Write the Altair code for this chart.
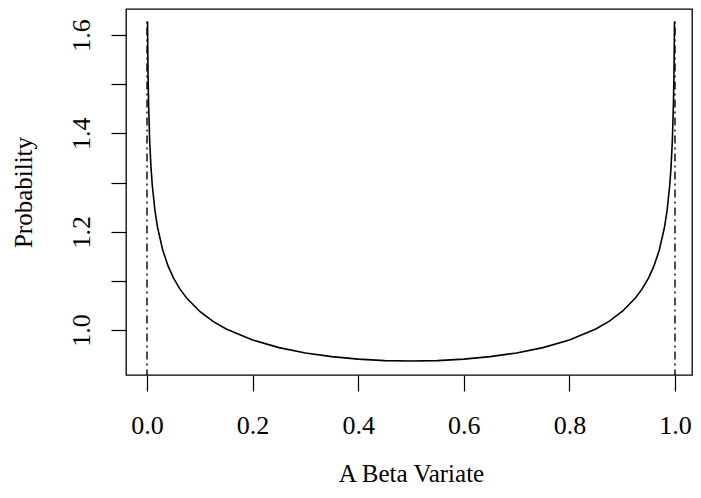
import altair as alt
import pandas as pd

# Density curve (symmetric U shape)
x_vals = [0.001, 0.0015, 0.002, 0.003, 0.005, 0.0075, 0.01, 0.015, 0.02, 0.03, 0.04, 0.05,
          0.0625, 0.075, 0.1, 0.125, 0.15, 0.2, 0.25, 0.3, 0.35, 0.4, 0.45, 0.5,
          0.55, 0.6, 0.65, 0.7, 0.75, 0.8, 0.85, 0.875, 0.9, 0.925, 0.9375, 0.95,
          0.96, 0.97, 0.98, 0.985, 0.99, 0.9925, 0.995, 0.997, 0.998, 0.9985, 0.999]
y_vals = [1.6275, 1.5629, 1.5187, 1.4585, 1.3861, 1.3313, 1.2939, 1.2432, 1.2085, 1.1617, 1.1299, 1.1061,
          1.0831, 1.0650, 1.0377, 1.0176, 1.0021, 0.9796, 0.9642, 0.9533, 0.9458, 0.9407, 0.9378, 0.9369,
          0.9378, 0.9407, 0.9458, 0.9533, 0.9642, 0.9796, 1.0021, 1.0176, 1.0377, 1.0650, 1.0831, 1.1061,
          1.1299, 1.1617, 1.2085, 1.2432, 1.2939, 1.3313, 1.3861, 1.4585, 1.5187, 1.5629, 1.6275]

# Dash-dot vertical guides at the support ends
vline_x = [0.0, 1.0]
vline_top = [1.6275, 1.6275]

x_ticks = [0.0, 0.2, 0.4, 0.6, 0.8, 1.0]
y_ticks = [1.0, 1.1, 1.2, 1.3, 1.4, 1.5, 1.6]

curve_df = pd.DataFrame({"x": x_vals, "y": y_vals})
vline_df = pd.DataFrame({"x": vline_x, "y": vline_top})

FONT = "Liberation Serif"
W, H = 566, 366

xscale = alt.Scale(domain=[-0.0398, 1.0322], nice=False, zero=False)
yscale = alt.Scale(domain=[0.9085, 1.6529], nice=False, zero=False)

xaxis = alt.Axis(values=x_ticks, format=".1f", domain=False, grid=False,
                 tickSize=16, tickColor="black", tickWidth=1.2,
                 labelFont=FONT, labelFontSize=26, labelColor="black",
                 labelBaseline="alphabetic", labelPadding=42, labelFlush=False,
                 title="A Beta Variate", titleFont=FONT, titleFontSize=25,
                 titleFontWeight="normal", titleColor="black",
                 titleX=285, titleY=106, titleBaseline="alphabetic",
                 titleAlign="center")

yaxis = alt.Axis(values=y_ticks, domain=False, grid=False,
                 labelExpr="round(datum.value*10) % 2 == 0 ? format(datum.value, '.1f') : ''",
                 tickSize=15, tickColor="black", tickWidth=1.2,
                 labelFont=FONT, labelFontSize=26, labelColor="black",
                 labelAngle=270, labelAlign="center", labelBaseline="alphabetic",
                 labelPadding=22, labelFlush=False,
                 title="Probability", titleFont=FONT, titleFontSize=25,
                 titleFontWeight="normal", titleColor="black",
                 titleAngle=270, titleX=-95, titleY=H / 2,
                 titleAlign="center", titleBaseline="alphabetic")

curve = alt.Chart(curve_df).mark_line(color="black", strokeWidth=1.6).encode(
    x=alt.X("x:Q", scale=xscale, axis=xaxis),
    y=alt.Y("y:Q", scale=yscale, axis=yaxis),
)

vlines = alt.Chart(vline_df).mark_rule(color="black", strokeWidth=1.4,
                                       strokeDash=[2, 4, 8, 4]).encode(
    x=alt.X("x:Q", scale=xscale),
    y=alt.Y("y:Q", scale=yscale),
    y2=alt.value(H),
)

chart = alt.layer(vlines, curve).properties(
    width=W, height=H,
    autosize=alt.AutoSizeParams(type="none"),
    padding={"left": 118, "top": 1, "right": 1, "bottom": 113},
).configure_view(stroke="black", strokeWidth=1.3)

chart.save("out.html", embed_options={"renderer": "svg", "actions": False})
